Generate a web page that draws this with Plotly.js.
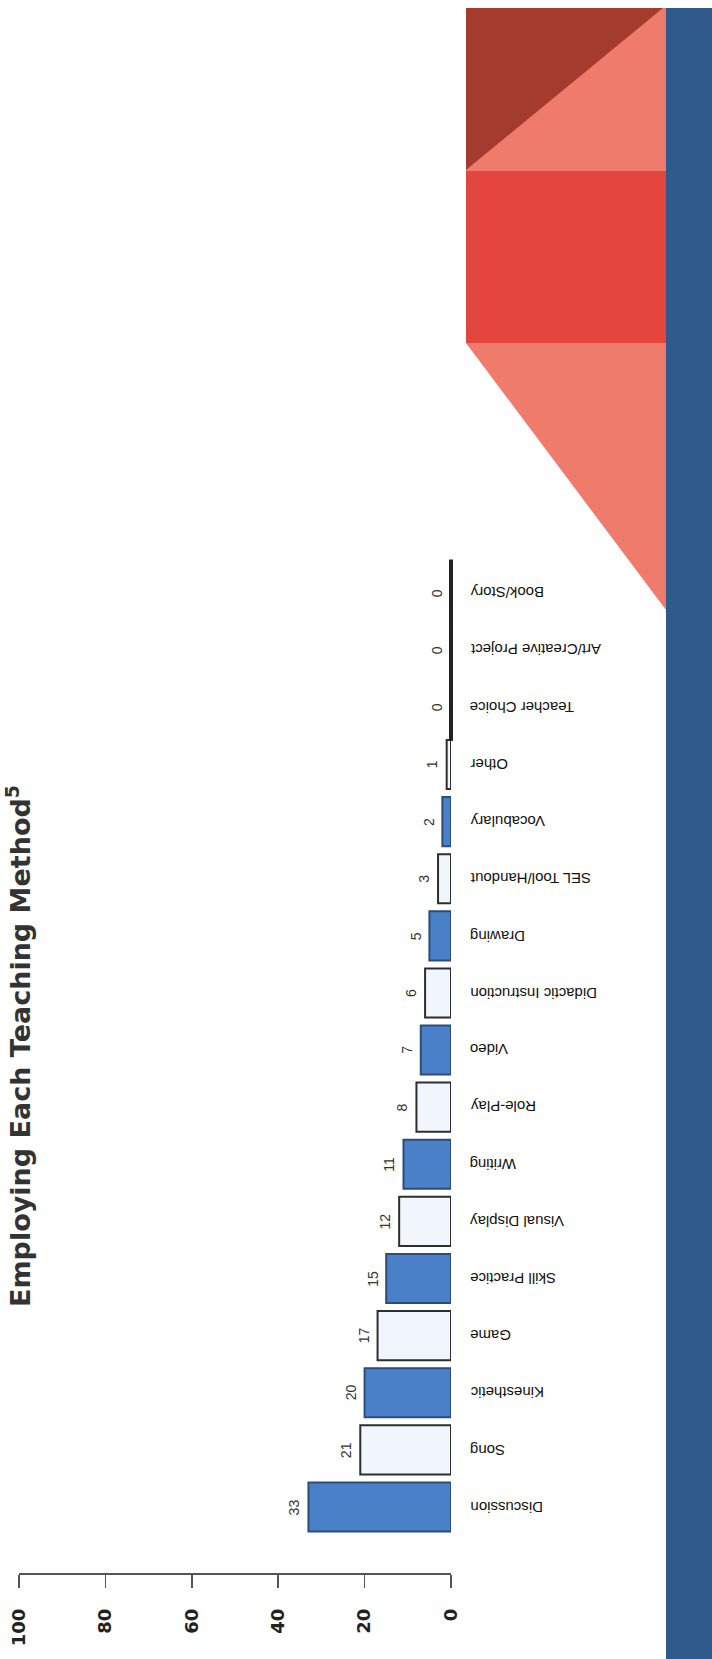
<!DOCTYPE html>
<html>
<head>
<meta charset="utf-8">
<script src="https://cdn.plot.ly/plotly-3.0.1.min.js"></script>
<style>
  html, body { margin: 0; padding: 0; background: #ffffff; }
  #chart { width: 712px; height: 1659px; }
</style>
</head>
<body>
<div id="chart"></div>
<script>
// ---- data ----
const categories = ['Discussion', 'Song', 'Kinesthetic', 'Game', 'Skill Practice', 'Visual Display',
  'Writing', 'Role-Play', 'Video', 'Didactic Instruction', 'Drawing', 'SEL Tool/Handout',
  'Vocabulary', 'Other', 'Teacher Choice', 'Art/Creative Project', 'Book/Story'];
const values = [33, 21, 20, 17, 15, 12, 11, 8, 7, 6, 5, 3, 2, 1, 0, 0, 0];
const tickValues = [0, 20, 40, 60, 80, 100];
const titleText = 'Employing Each Teaching Method<sup>5</sup>';

// ---- layout geometry (pixels) ----
const W = 712, H = 1659;
const M = { l: 19, r: W - 451, t: 564, b: H - 1573 };
const plotW = W - M.l - M.r, plotH = H - M.t - M.b;
const fx = px => (px - M.l) / plotW;
const fy = py => (H - M.b - py) / plotH;

const blueFill = '#4a80c8', blueEdge = '#2c4d7a';
const lightFill = '#f1f6fc', lightEdge = '#2e2e2e';
const fills = values.map((v, i) => i % 2 === 0 ? blueFill : lightFill);
const edges = values.map((v, i) => i % 2 === 0 ? blueEdge : lightEdge);

const barTrace = {
  type: 'bar', orientation: 'h',
  x: values, y: categories,
  marker: { color: fills, line: { color: edges, width: 2 } },
  cliponaxis: false, hoverinfo: 'x+y'
};

// zero-valued categories still show their outline as a vertical line
const zeroCats = categories.filter((c, i) => values[i] === 0);
const zeroVals = values.filter(v => v === 0);
const zeroTrace = {
  type: 'scatter', mode: 'markers',
  x: zeroVals, y: zeroCats,
  marker: { symbol: 'line-ns-open', size: 48, color: '#222', line: { color: '#222', width: 4 } },
  cliponaxis: false, hoverinfo: 'skip'
};

const annotations = [];
categories.forEach((c, i) => {
  annotations.push({
    x: values[i], y: c, xref: 'x', yref: 'y',
    text: String(values[i]), showarrow: false,
    textangle: -90, xanchor: 'right', yanchor: 'middle', xshift: -4,
    font: { family: 'Liberation Sans, Arial, sans-serif', size: 14, color: '#333' }
  });
  annotations.push({
    x: 1, y: c, xref: 'paper', yref: 'y',
    text: c, showarrow: false,
    textangle: 180, xanchor: 'left', yanchor: 'middle', xshift: 17,
    font: { family: 'Liberation Sans, Arial, sans-serif', size: 15, color: '#111' }
  });
});
annotations.push({
  x: fx(18), y: fy(1046), xref: 'paper', yref: 'paper',
  text: titleText, showarrow: false, textangle: -90,
  xanchor: 'center', yanchor: 'middle',
  font: { family: 'DejaVu Sans, sans-serif', size: 27, color: '#333', weight: 'bold' }
});

const poly = pts => 'M' + pts.map(p => fx(p[0]) + ',' + fy(p[1])).join(' L') + ' Z';
const shapes = [
  { type: 'rect', xref: 'paper', yref: 'paper', x0: fx(666), x1: fx(720), y0: fy(8), y1: fy(1670),
    fillcolor: '#2f5b8c', line: { width: 0 }, layer: 'below' },
  { type: 'rect', xref: 'paper', yref: 'paper', x0: fx(466), x1: fx(666), y0: fy(8), y1: fy(172),
    fillcolor: '#ef7b6c', line: { width: 0 }, layer: 'below' },
  { type: 'path', xref: 'paper', yref: 'paper', path: poly([[466, 8], [663, 8], [466, 170]]),
    fillcolor: '#a53b2e', line: { width: 0 }, layer: 'below' },
  { type: 'rect', xref: 'paper', yref: 'paper', x0: fx(466), x1: fx(666), y0: fy(171), y1: fy(343),
    fillcolor: '#e2463e', line: { width: 0 }, layer: 'below' },
  { type: 'path', xref: 'paper', yref: 'paper', path: poly([[466, 343], [666, 343], [666, 610]]),
    fillcolor: '#ef7b6c', line: { width: 0 }, layer: 'below' }
];

const layout = {
  width: W, height: H,
  margin: M,
  paper_bgcolor: '#ffffff', plot_bgcolor: 'rgba(0,0,0,0)',
  showlegend: false,
  bargap: 0.14,
  xaxis: {
    range: [100, 0], tickvals: tickValues, ticktext: tickValues.map(String),
    showgrid: false, zeroline: false,
    showline: true, linecolor: '#555', linewidth: 1.5,
    ticks: 'outside', ticklen: 13, tickwidth: 1.5, tickcolor: '#555',
    tickangle: -90, ticklabelstandoff: 14,
    tickfont: { family: 'DejaVu Sans, sans-serif', size: 18, color: '#222', weight: 'bold' }
  },
  yaxis: {
    type: 'category', categoryorder: 'array', categoryarray: categories,
    range: [-1.156, 16.51],
    showticklabels: false, showgrid: false, zeroline: false, showline: false, ticks: ''
  },
  annotations: annotations,
  shapes: shapes
};

Plotly.newPlot('chart', [barTrace, zeroTrace], layout, { staticPlot: true, displayModeBar: false });
</script>
</body>
</html>
